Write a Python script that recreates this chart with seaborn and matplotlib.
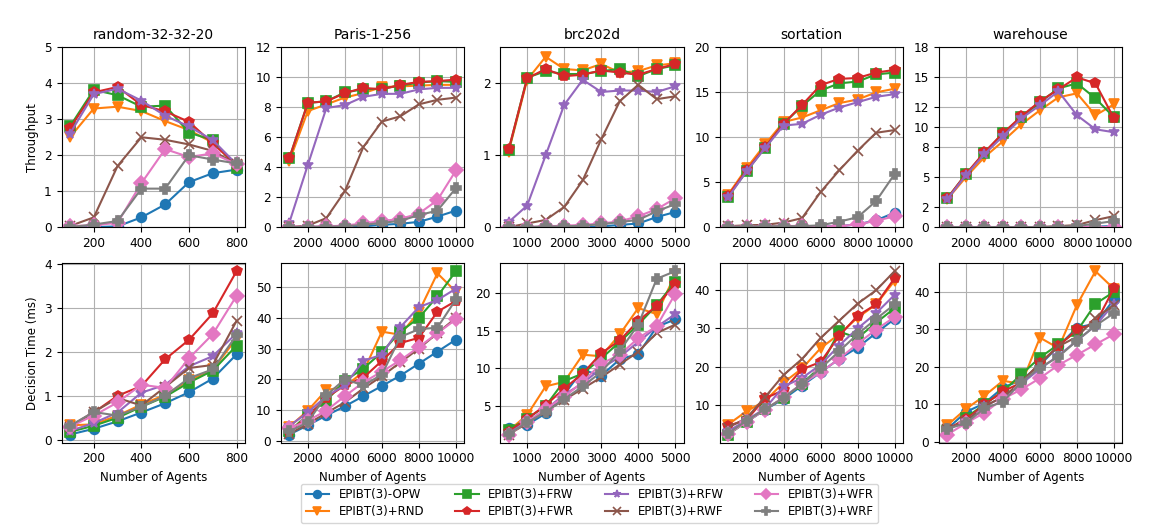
import numpy as np
import pandas as pd
import matplotlib
matplotlib.use("Agg")
import matplotlib.pyplot as plt
import seaborn as sns

methods = ["EPIBT(3)-OPW", "EPIBT(3)+RND", "EPIBT(3)+FRW", "EPIBT(3)+FWR",
           "EPIBT(3)+RFW", "EPIBT(3)+RWF", "EPIBT(3)+WFR", "EPIBT(3)+WRF"]
markers = ["o", "v", "s", "p", "*", "x", "D", "P"]
colors = sns.color_palette("tab10", 8)

maps = ["random-32-32-20", "Paris-1-256", "brc202d", "sortation", "warehouse"]
agents_random = [100, 200, 300, 400, 500, 600, 700, 800]
agents_brc = [500, 1000, 1500, 2000, 2500, 3000, 3500, 4000, 4500, 5000]
agents_big = [1000, 2000, 3000, 4000, 5000, 6000, 7000, 8000, 9000, 10000]

# throughput, one list per method (same order as methods)
tp_random = [
    [0.0, 0.0, 0.02, 0.27, 0.63, 1.25, 1.5, 1.6],
    [2.5, 3.3, 3.35, 3.23, 2.95, 2.7, 2.35, 1.72],
    [2.8, 3.82, 3.67, 3.35, 3.38, 2.63, 2.42, 1.65],
    [2.75, 3.75, 3.9, 3.4, 3.22, 2.93, 2.33, 1.73],
    [2.6, 3.7, 3.85, 3.52, 3.1, 2.8, 2.42, 1.75],
    [0.03, 0.27, 1.7, 2.5, 2.43, 2.3, 2.12, 1.75],
    [0.03, 0.05, 0.12, 1.22, 2.17, 1.95, 2.05, 1.75],
    [0.0, 0.07, 0.17, 1.07, 1.07, 2.0, 1.88, 1.77],
]
tp_paris = [
    [0.0, 0.0, 0.0, 0.02, 0.05, 0.15, 0.22, 0.35, 0.7, 1.1],
    [4.4, 7.75, 8.2, 8.65, 8.95, 9.35, 9.4, 9.45, 9.5, 9.5],
    [4.6, 8.3, 8.4, 9.0, 9.2, 9.25, 9.45, 9.65, 9.75, 9.7],
    [4.6, 8.3, 8.4, 8.95, 9.3, 9.2, 9.5, 9.7, 9.75, 9.85],
    [0.3, 4.15, 7.95, 8.15, 8.7, 8.9, 8.9, 9.2, 9.3, 9.3],
    [0.0, 0.1, 0.6, 2.4, 5.35, 7.05, 7.4, 8.2, 8.5, 8.65],
    [0.02, 0.03, 0.05, 0.1, 0.25, 0.4, 0.55, 0.9, 1.8, 3.78],
    [0.0, 0.02, 0.03, 0.05, 0.15, 0.28, 0.42, 0.8, 1.1, 2.6],
]
tp_brc = [
    [0.0, 0.0, 0.0, 0.0, 0.0, 0.01, 0.03, 0.05, 0.14, 0.21],
    [1.05, 2.05, 2.37, 2.2, 2.18, 2.27, 2.15, 2.17, 2.25, 2.28],
    [1.07, 2.08, 2.17, 2.13, 2.13, 2.17, 2.2, 2.1, 2.2, 2.25],
    [1.08, 2.07, 2.2, 2.1, 2.12, 2.18, 2.15, 2.12, 2.2, 2.27],
    [0.07, 0.3, 1.0, 1.7, 2.05, 1.88, 1.9, 1.9, 1.88, 1.96],
    [0.0, 0.05, 0.1, 0.28, 0.65, 1.22, 1.75, 1.98, 1.78, 1.82],
    [0.0, 0.0, 0.01, 0.02, 0.03, 0.05, 0.08, 0.15, 0.25, 0.4],
    [0.0, 0.0, 0.01, 0.01, 0.02, 0.04, 0.07, 0.1, 0.22, 0.32],
]
tp_sortation = [
    [0.0, 0.0, 0.0, 0.0, 0.0, 0.05, 0.1, 0.3, 0.75, 1.6],
    [3.6, 6.55, 9.2, 11.7, 12.2, 13.0, 13.8, 14.2, 15.0, 15.4],
    [3.4, 6.2, 8.85, 11.5, 13.5, 15.2, 16.0, 16.2, 17.0, 17.2],
    [3.5, 6.3, 8.9, 11.5, 13.6, 15.8, 16.5, 16.6, 17.2, 17.5],
    [3.3, 6.2, 8.8, 11.3, 11.5, 12.5, 13.3, 13.9, 14.5, 14.8],
    [0.1, 0.2, 0.25, 0.5, 1.0, 3.9, 6.3, 8.5, 10.5, 10.8],
    [0.05, 0.05, 0.1, 0.1, 0.15, 0.05, 0.1, 0.3, 0.7, 1.2],
    [0.05, 0.05, 0.1, 0.1, 0.1, 0.2, 0.6, 1.1, 2.9, 5.9],
]
tp_warehouse = [
    [0.0, 0.0, 0.0, 0.0, 0.0, 0.0, 0.0, 0.0, 0.05, 0.1],
    [2.8, 5.0, 7.0, 8.6, 10.3, 11.7, 13.0, 13.4, 11.2, 12.3],
    [2.9, 5.3, 7.4, 9.4, 11.0, 12.5, 13.9, 14.4, 12.9, 11.0],
    [2.9, 5.3, 7.5, 9.4, 11.1, 12.6, 13.8, 15.0, 14.4, 10.9],
    [2.8, 5.2, 7.3, 9.1, 10.9, 12.2, 13.6, 11.2, 9.8, 9.5],
    [0.0, 0.0, 0.0, 0.0, 0.0, 0.0, 0.1, 0.2, 0.7, 1.1],
    [0.05, 0.05, 0.05, 0.05, 0.05, 0.05, 0.05, 0.05, 0.05, 0.05],
    [0.0, 0.0, 0.0, 0.0, 0.0, 0.0, 0.05, 0.1, 0.35, 0.6],
]

# decision time (ms)
dt_random = [
    [0.12, 0.25, 0.42, 0.62, 0.83, 1.08, 1.39, 1.94],
    [0.33, 0.35, 0.55, 0.8, 1.02, 1.35, 1.6, 2.3],
    [0.18, 0.32, 0.5, 0.75, 0.98, 1.3, 1.57, 2.14],
    [0.3, 0.62, 1.0, 1.22, 1.83, 2.27, 2.87, 3.83],
    [0.2, 0.38, 0.62, 1.07, 1.25, 1.67, 1.9, 2.42],
    [0.3, 0.63, 0.95, 0.78, 1.2, 1.63, 1.7, 2.7],
    [0.3, 0.55, 0.85, 1.25, 1.18, 1.85, 2.4, 3.27],
    [0.32, 0.63, 0.55, 0.75, 1.0, 1.4, 1.6, 2.38],
]
dt_paris = [
    [2.0, 5.0, 8.2, 11.2, 14.5, 17.8, 21.2, 25.1, 29.0, 32.9],
    [4.5, 9.8, 16.5, 17.5, 22.5, 35.5, 34.5, 42.0, 54.5, 48.5],
    [3.0, 8.5, 13.0, 19.5, 23.5, 28.8, 35.5, 40.0, 47.0, 55.2],
    [3.0, 7.8, 14.0, 18.0, 20.5, 26.0, 31.8, 33.5, 42.0, 45.5],
    [4.8, 9.2, 14.5, 18.0, 26.0, 28.0, 37.0, 43.5, 45.8, 49.5],
    [2.2, 5.5, 9.0, 12.5, 17.0, 21.0, 25.5, 30.0, 35.0, 40.0],
    [4.0, 6.5, 9.8, 14.5, 19.0, 22.5, 26.2, 30.5, 35.0, 39.5],
    [3.0, 6.0, 14.8, 20.0, 18.0, 21.5, 33.8, 36.3, 36.8, 46.0],
]
dt_brc = [
    [2.0, 2.5, 4.0, 6.5, 9.8, 9.0, 11.2, 11.9, 15.5, 16.5],
    [1.7, 3.8, 7.6, 8.2, 11.8, 11.6, 14.5, 18.0, 17.2, 22.5],
    [1.8, 3.3, 5.0, 8.3, 9.3, 11.3, 13.5, 15.8, 18.4, 21.5],
    [1.6, 3.3, 5.1, 7.3, 9.3, 12.0, 13.7, 16.3, 18.3, 21.2],
    [1.4, 2.9, 4.5, 6.5, 8.0, 10.0, 11.5, 13.5, 15.5, 17.2],
    [1.2, 2.7, 4.3, 5.8, 7.3, 8.8, 10.5, 12.2, 14.7, 15.8],
    [1.2, 2.9, 4.6, 6.2, 8.2, 10.6, 11.8, 14.0, 15.6, 19.9],
    [1.3, 2.8, 4.2, 5.9, 7.6, 9.5, 12.3, 15.8, 21.9, 22.9],
]
dt_sortation = [
    [2.5, 5.5, 8.7, 11.5, 15.0, 18.5, 22.0, 25.0, 28.8, 32.5],
    [4.8, 8.3, 11.0, 15.8, 19.5, 24.8, 28.5, 32.8, 36.3, 42.5],
    [2.2, 5.5, 8.8, 11.8, 15.5, 20.0, 29.2, 27.5, 31.5, 35.3],
    [4.5, 6.0, 11.7, 13.8, 19.3, 21.2, 28.0, 33.3, 36.3, 43.2],
    [3.0, 6.0, 9.0, 14.8, 17.0, 20.5, 25.5, 30.0, 34.0, 38.8],
    [4.0, 6.5, 12.0, 17.8, 22.0, 27.5, 32.0, 36.5, 40.0, 45.0],
    [2.3, 5.5, 8.7, 12.0, 15.5, 18.5, 22.0, 26.0, 29.7, 33.0],
    [2.5, 5.8, 8.8, 11.8, 15.5, 19.5, 24.0, 28.5, 32.5, 36.3],
]
dt_warehouse = [
    [3.5, 8.0, 10.3, 14.5, 16.5, 20.5, 25.5, 30.5, 31.5, 38.0],
    [4.5, 8.8, 12.3, 16.3, 15.5, 27.8, 25.0, 36.5, 45.5, 40.8],
    [3.0, 6.5, 10.0, 13.5, 18.0, 22.5, 26.0, 29.5, 36.8, 40.0],
    [3.5, 6.0, 10.0, 13.5, 15.8, 21.0, 25.5, 30.0, 31.5, 41.0],
    [3.5, 5.5, 9.5, 12.0, 15.5, 19.5, 23.0, 27.0, 31.0, 36.8],
    [3.5, 5.5, 9.5, 12.0, 16.0, 21.0, 25.5, 28.0, 33.0, 36.5],
    [2.0, 5.0, 7.8, 11.5, 14.0, 17.0, 20.5, 23.2, 26.0, 28.7],
    [3.5, 5.0, 9.0, 10.7, 16.0, 19.8, 22.7, 27.0, 31.0, 34.3],
]

agents = [agents_random, agents_big, agents_brc, agents_big, agents_big]
throughput = [tp_random, tp_paris, tp_brc, tp_sortation, tp_warehouse]
decision = [dt_random, dt_paris, dt_brc, dt_sortation, dt_warehouse]

tp_ylims = [(0, 5), (0, 12), (0, 2.5), (0, 20), (0, 18)]
tp_yticks = [[0, 1, 2, 3, 4, 5], [0, 2, 4, 6, 8, 10, 12], [0, 1, 2],
             [0, 5, 10, 15, 20], [0, 2, 5, 8, 10, 12, 15, 18]]
xticks = [[200, 400, 600, 800], [2000, 4000, 6000, 8000, 10000],
          [1000, 2000, 3000, 4000, 5000], [2000, 4000, 6000, 8000, 10000],
          [2000, 4000, 6000, 8000, 10000]]

plt.rcParams["xtick.labelsize"] = 8.7
plt.rcParams["ytick.labelsize"] = 8.7
plt.rcParams["axes.labelsize"] = 8.5


def draw(ax, x, series):
    for name, vals, m, c in zip(methods, series, markers, colors):
        df = pd.DataFrame({"agents": x, "value": vals})
        sns.lineplot(data=df, x="agents", y="value", ax=ax, color=c, marker=m,
                     markersize=7, markeredgecolor=c, markeredgewidth=1.2,
                     linewidth=1.5, label=name, legend=False)
    ax.grid(True, color="#b0b0b0", linewidth=0.8)
    ax.set_axisbelow(True)


fig, axes = plt.subplots(2, 5, figsize=(11.63, 5.27), dpi=100)

for i in range(5):
    ax = axes[0, i]
    draw(ax, agents[i], throughput[i])
    ax.set_title(maps[i], fontsize=10)
    ax.set_ylim(*tp_ylims[i])
    ax.set_yticks(tp_yticks[i])
    ax.set_xticks(xticks[i])
    ax.set_xlabel("")
    ax.set_ylabel("Throughput" if i == 0 else "")

    ax = axes[1, i]
    draw(ax, agents[i], decision[i])
    ax.set_xticks(xticks[i])
    ax.set_xlabel("Number of Agents")
    ax.set_ylabel("Decision Time (ms)" if i == 0 else "")

plt.subplots_adjust(left=0.053, right=0.965, top=0.91, bottom=0.16,
                    wspace=0.197, hspace=0.2)

handles, labels = axes[0, 0].get_legend_handles_labels()
fig.legend(handles, labels, loc="lower center", ncol=4,
           bbox_to_anchor=(0.507, -0.004), fontsize=8.5, columnspacing=2.6,
           handlelength=2.0, handletextpad=0.8, labelspacing=0.35,
           borderpad=0.4, markerscale=0.8)

plt.savefig("out.png", dpi=100)
plt.close()
